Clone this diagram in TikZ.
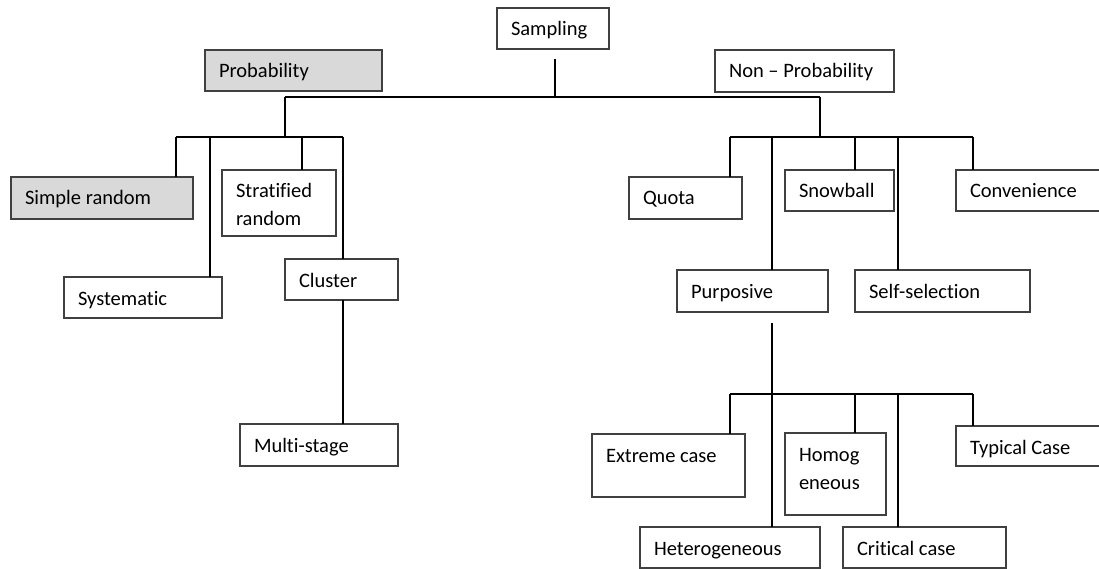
\documentclass[tikz,border=0pt]{standalone}
\usepackage{fontspec}
\setmainfont{Carlito}[Ligatures=NoCommon]
\definecolor{shade}{HTML}{D9D9D9}
\definecolor{edge}{HTML}{404040}
\tikzset{
  boxst/.style={rectangle, draw=edge, line width=1.3pt, inner sep=0pt, outer sep=0pt},
  txt/.style={inner sep=0pt, outer sep=0pt, font=\fontsize{20.5}{28}\selectfont, text=black},
  link/.style={draw=black, line width=1.2pt},
}
% box: name, left, top, right, bottom, fill, text
\newcommand{\treebox}[7]{%
  \node[boxst, fill=#6, minimum width={#4-#2}, minimum height={#5-#3}, anchor=north west] (#1) at (#2,#3) {};
  \node[txt, anchor=base west] (#1-t) at ({#2+14},{#3+28}) {\begin{tabular}[t]{@{}l@{}}#7\end{tabular}};
}
% vertical drop from a bar point down to the top of a box
\newcommand{\branchdrop}[3]{%
  \draw[link] (#1,#2) coordinate (tmpd) -- (tmpd |- #3.north);
}
\begin{document}
\begin{tikzpicture}[x=1pt,y=-1pt]
\useasboundingbox (0,0) rectangle (1099,569);

% boxes
\treebox{sampling}{497}{8}{609}{49}{white}{Sampling}
\treebox{prob}{205}{50}{382}{91}{shade}{Probability}
\treebox{nonprob}{715}{50}{894}{92}{white}{Non – Probability}
\treebox{simple}{11}{177}{193}{219}{shade}{Simple random}
\treebox{strat}{222}{170}{336}{236}{white}{Stratified\\random}
\treebox{system}{64}{277}{222}{318}{white}{Systematic}
\treebox{cluster}{285}{259}{398}{300}{white}{Cluster}
\treebox{multi}{240}{424}{398}{466}{white}{Multi-stage}
\treebox{quota}{629}{177}{742}{219}{white}{Quota}
\treebox{snow}{785}{170}{894}{211}{white}{Snowball}
\treebox{conv}{956}{170}{1103}{211}{white}{Convenience}
\treebox{purp}{677}{270}{828}{312}{white}{Purposive}
\treebox{self}{855}{270}{1030}{312}{white}{Self-selection}
\treebox{extreme}{592}{434}{745}{497}{white}{Extreme case}
\treebox{homog}{785}{433}{886}{515}{white}{Homog\\eneous}
\treebox{typical}{956}{426}{1103}{466}{white}{Typical Case}
\treebox{hetero}{640}{527}{820}{568}{white}{Heterogeneous}
\treebox{critical}{843}{527}{1006}{568}{white}{Critical case}

% junction points
\coordinate (j0) at (555,97);
\coordinate (jP) at (285,137);
\coordinate (jN) at (820,137);
\coordinate (jU) at (772,394);

% root split
\draw[link] ([xshift=2pt,yshift=-10pt]sampling.south) -- (j0);
\draw[link] (285,97) -- (820,97);
\draw[link] (285,97) -- (jP);
\draw[link] (820,97) -- (jN);

% probability branches
\draw[link] (176,137) -- (343,137);
\branchdrop{176}{137}{simple}
\branchdrop{210}{137}{system}
\branchdrop{302}{137}{strat}
\branchdrop{343}{137}{cluster}
\draw[link] (cluster.south -| 343,0) -- (multi.north -| 343,0);

% non-probability branches
\draw[link] (730,137) -- (973,137);
\branchdrop{730}{137}{quota}
\branchdrop{772}{137}{purp}
\branchdrop{855}{137}{snow}
\branchdrop{898}{137}{self}
\branchdrop{973}{137}{conv}

% purposive branches
\draw[link] ([yshift=-11pt]purp.south -| jU) -- (hetero.north -| jU);
\draw[link] (730,394) -- (973,394);
\branchdrop{730}{394}{extreme}
\branchdrop{855}{394}{homog}
\branchdrop{898}{394}{critical}
\branchdrop{973}{394}{typical}
\end{tikzpicture}
\end{document}
